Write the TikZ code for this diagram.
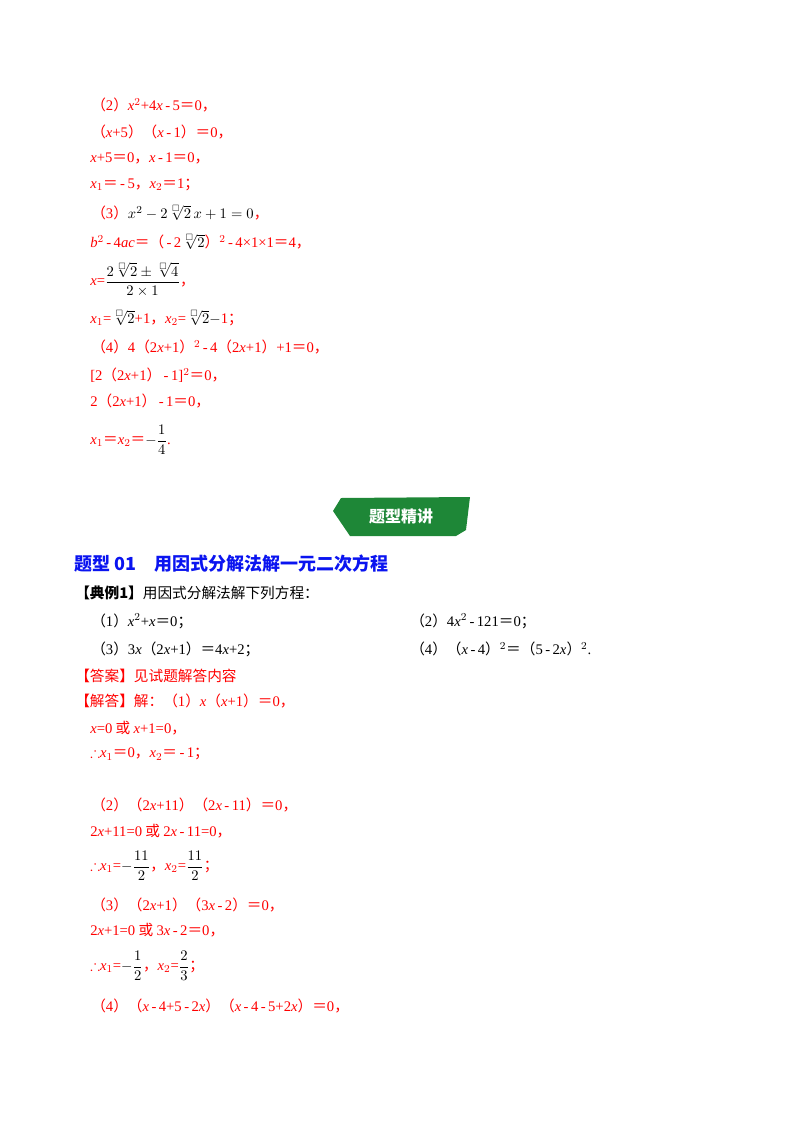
\documentclass[tikz,border=0pt]{standalone}
\usepackage{amsmath,amssymb}
\usepackage{fontspec}
\setmainfont{Liberation Serif}
\newfontfamily\zh{Noto Sans CJK SC}
\definecolor{rd}{RGB}{255,0,0}
\definecolor{bl}{RGB}{10,20,240}
\definecolor{gr}{RGB}{30,135,55}
\newcommand\lp{{\zh （}}
\newcommand\rp{{\zh ）}}
\newcommand\zeq{{\zh ＝}}
\newcommand\dou{{\zh ，}}
\newcommand\fen{{\zh ；}}
\newcommand\huo{{\zh\ 或\ }}
\newcommand\iv[1]{\textit{#1}}
\newcommand\mi{\,-\,}
\newcommand\rt[1]{\sqrt[\scriptscriptstyle\square]{#1}}
\begin{document}
\begin{tikzpicture}[x=0.75pt,y=-0.75pt,
  t/.style={anchor=west,inner sep=0,font=\fontsize{11}{13}\selectfont,text=rd},
  k/.style={t,text=black}]
\useasboundingbox (0,0) rectangle (800,1132);
\node[t] (a1) at (91,105) {\lp 2\rp\iv{x}$^2$+4\iv{x}\mi 5\zeq 0\dou};
\node[t] (a2) at (91,132) {\lp\iv{x}+5\rp\lp\iv{x}\mi 1\rp\zeq 0\dou};
\node[t] (a3) at (90,158) {\iv{x}+5\zeq 0\dou\iv{x}\mi 1\zeq 0\dou};
\node[t] (a4) at (90,185) {\iv{x}$_1$\zeq\mi 5\dou\iv{x}$_2$\zeq 1\fen};
\node[t] (a5) at (91,213) {\lp 3\rp\textcolor{black}{$x^2-2\rt{2}\,x+1=0$}\dou};
\node[t] (a6) at (90,242) {\iv{b}$^2$\mi 4\iv{ac}\zeq\lp\mi 2\textcolor{black}{$\rt{2}$}\rp$^2$\mi 4×1×1\zeq 4\dou};
\node[t] (a7) at (90,280) {\iv{x}=\textcolor{black}{$\dfrac{2\rt{2}\pm\rt{4}}{2\times1}$}\dou};
\node[t] (a8) at (90,318) {\iv{x}$_1$=\textcolor{black}{$\rt{2}$}+1\dou\iv{x}$_2$=\textcolor{black}{$\rt{2}-$}1\fen};
\node[t] (a9) at (91,347) {\lp 4\rp 4\lp 2\iv{x}+1\rp$^2$\mi 4\lp 2\iv{x}+1\rp+1\zeq 0\dou};
\node[t] (a10) at (90,375) {[2\lp 2\iv{x}+1\rp\mi 1]$^2$\zeq 0\dou};
\node[t] (a11) at (90,401) {2\lp 2\iv{x}+1\rp\mi 1\zeq 0\dou};
\node[t] (a12) at (90,440) {\iv{x}$_1$\zeq\iv{x}$_2$\zeq\textcolor{black}{$-\dfrac{1}{4}$}.};
\fill[gr] (341,498) -- (470,497) -- (466,530) -- (456,536) -- (350,536) -- (333,511) -- cycle;
\node[font=\zh\bfseries\fontsize{12}{14}\selectfont,text=white] (ban) at (401,516) {题型精讲};
\node[anchor=west,inner sep=0,text=bl,font=\zh\bfseries\fontsize{13.5}{16}\selectfont] (tt) at (74,564) {题型 01\quad 用因式分解法解一元二次方程};
\node[k] (b1) at (75,593) {{\zh\bfseries 【典例1】}{\zh 用因式分解法解下列方程：}};
\node[k] (b2) at (91,621) {\lp 1\rp\iv{x}$^2$+\iv{x}\zeq 0\fen};
\node[k] (b3) at (410,621) {\lp 2\rp 4\iv{x}$^2$\mi 121\zeq 0\fen};
\node[k] (b4) at (91,649) {\lp 3\rp 3\iv{x}\lp 2\iv{x}+1\rp\zeq 4\iv{x}+2\fen};
\node[k] (b5) at (410,649) {\lp 4\rp\lp\iv{x}\mi 4\rp$^2$\zeq\lp 5\mi 2\iv{x}\rp$^2$.};
\node[t] (c1) at (75,676) {{\zh 【答案】见试题解答内容}};
\node[t] (c2) at (75,701) {{\zh 【解答】解：}\lp 1\rp\iv{x}\lp\iv{x}+1\rp\zeq 0\dou};
\node[t] (c3) at (90,728) {\iv{x}=0\huo\iv{x}+1=0\dou};
\node[t] (c4) at (90,754) {$\therefore$\iv{x}$_1$\zeq 0\dou\iv{x}$_2$\zeq\mi 1\fen};
\node[t] (c5) at (91,805) {\lp 2\rp\lp 2\iv{x}+11\rp\lp 2\iv{x}\mi 11\rp\zeq 0\dou};
\node[t] (c6) at (90,831) {2\iv{x}+11=0\huo 2\iv{x}\mi 11=0\dou};
\node[t] (c7) at (90,866) {$\therefore$\iv{x}$_1$=\textcolor{black}{$-\dfrac{11}{2}$}\dou\iv{x}$_2$=\textcolor{black}{$\dfrac{11}{2}$}\fen};
\node[t] (c8) at (91,905) {\lp 3\rp\lp 2\iv{x}+1\rp\lp 3\iv{x}\mi 2\rp\zeq 0\dou};
\node[t] (c9) at (90,930) {2\iv{x}+1=0\huo 3\iv{x}\mi 2\zeq 0\dou};
\node[t] (c10) at (90,966) {$\therefore$\iv{x}$_1$=\textcolor{black}{$-\dfrac{1}{2}$}\dou\iv{x}$_2$=\textcolor{black}{$\dfrac{2}{3}$}\fen};
\node[t] (c11) at (91,1006) {\lp 4\rp\lp\iv{x}\mi 4+5\mi 2\iv{x}\rp\lp\iv{x}\mi 4\mi 5+2\iv{x}\rp\zeq 0\dou};
\end{tikzpicture}
\end{document}
